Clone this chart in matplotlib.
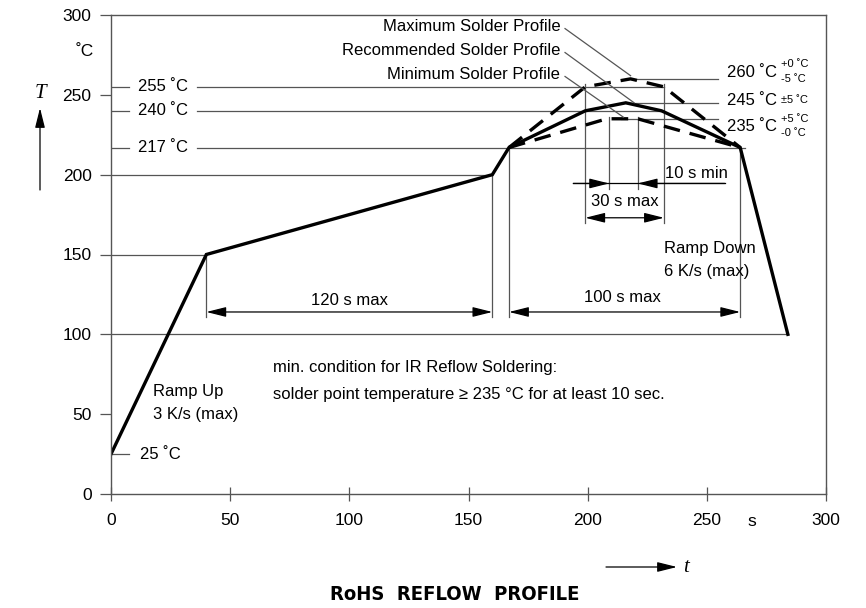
import matplotlib
matplotlib.use("Agg")
import matplotlib.pyplot as plt
from matplotlib import font_manager as fm

# ---------------- data ----------------
rec_time = [0, 40, 160, 167, 199, 216, 231, 264, 284]
rec_temp = [25, 150, 200, 217, 240, 245, 240, 217, 100]
max_time = [167, 199, 218, 232, 264]
max_temp = [217, 255, 260, 255, 217]
min_time = [167, 208, 221, 264]
min_temp = [217, 235, 235, 217]

x_ticks = [0, 50, 100, 150, 200, 250, 300]
y_ticks = [0, 50, 100, 150, 200, 250, 300]
left_refs = [255, 240, 217]
right_refs = [260, 245, 235]
right_tol = [("+0 ˚C", "-5 ˚C"), ("±5 ˚C", None), ("+5 ˚C", "-0 ˚C")]

# ---------------- fonts ----------------
ttf = fm.fontManager.ttflist
names = {f.name for f in ttf}
NARROW = 'Liberation Sans Narrow' in names
SANS = ['Liberation Sans Narrow', 'DejaVu Sans'] if NARROW else ['Liberation Sans', 'DejaVu Sans']
plt.rcParams['font.family'] = SANS
FS = 13.5 if NARROW else 12
TFS = 14.5 if NARROW else 12.5
SUP = 9 if NARROW else 8

GRAY = '#555555'
fig = plt.figure(figsize=(8.66, 6.08), dpi=100)
ax = fig.add_axes([111/866, 1-494/608, 715/866, 479/608])
ax.set_xlim(0, 300)
ax.set_ylim(0, 300)
for s in ax.spines.values():
    s.set_color(GRAY)
    s.set_linewidth(1.0)
ax.set_xticks(x_ticks)
ax.set_yticks(y_ticks)
ax.tick_params(axis='x', direction='inout', length=10, width=0.9, color=GRAY,
               pad=9, labelsize=TFS)
ax.tick_params(axis='y', direction='out', length=8, width=0.9, color=GRAY,
               pad=6, labelsize=TFS)

thin = dict(color=GRAY, lw=0.9)
# reference lines
ax.plot([0, 284], [100, 100], **thin)
ax.plot([0, 40], [150, 150], **thin)
ax.plot([0, 160], [200, 200], **thin)
ends = {255: 232, 240: 231, 217: 266}
for t in left_refs:
    ax.plot([0, 7.5], [t, t], **thin)
    ax.plot([36, ends[t]], [t, t], **thin)
    ax.text(11.5, t, f"{t} ˚C", fontsize=FS, va='center', ha='left')
ax.plot([0, 7.5], [25, 25], **thin)
ax.text(12, 25, "25 ˚C", fontsize=FS, va='center', ha='left')

# right reference lines from peaks
ax.plot([218, 254.5], [260, 260], **thin)
ax.plot([216, 254.5], [245, 245], **thin)
ax.plot([214, 254.5], [235, 235], **thin)
for t, yl, (up, lo) in zip(right_refs, [264, 246.7, 230], right_tol):
    ax.text(258.5, yl, f"{t} ˚C", fontsize=FS, va='center', ha='left')
    if lo is None:
        ax.text(281.2, yl, up, fontsize=SUP, va='center', ha='left')
    else:
        ax.text(281.2, yl + 5, up, fontsize=SUP, va='center', ha='left')
        ax.text(281.2, yl - 4, lo, fontsize=SUP, va='center', ha='left')

# vertical dimension lines
ax.plot([40, 40], [150, 111], **thin)
ax.plot([160, 160], [200, 111], **thin)
ax.plot([167, 167], [217, 111], **thin)
ax.plot([264, 264], [217, 111], **thin)
ax.plot([199, 199], [257, 170], **thin)
ax.plot([232, 232], [257, 170], **thin)
ax.plot([209, 209], [236, 191], **thin)
ax.plot([221, 221], [236, 191], **thin)

# profiles
ax.plot(rec_time, rec_temp, color='black', lw=2.4, solid_joinstyle='miter')
ax.plot(max_time, max_temp, color='black', lw=2.4, ls=(0, (5, 3)))
ax.plot(min_time, min_temp, color='black', lw=2.4, ls=(0, (5, 3)))

# arrows
AST = '<|-|>,head_length=0.6,head_width=0.15'
OST = '-|>,head_length=0.6,head_width=0.15'
def dim(x1, x2, y, style=AST):
    ax.annotate('', xy=(x2, y), xytext=(x1, y),
                arrowprops=dict(arrowstyle=style, color='black', lw=0.9,
                                mutation_scale=20, shrinkA=0, shrinkB=0))
dim(40, 160, 114)
dim(167, 264, 114)
dim(199, 232, 173)
ax.plot([194, 257.5], [194.5, 194.5], color='black', lw=0.9)
dim(194, 209, 194.5, OST)
dim(257.5, 221, 194.5, OST)

ax.text(100, 121.5, "120 s max", fontsize=FS, ha='center', va='center')
ax.text(214.5, 123, "100 s max", fontsize=FS, ha='center', va='center')
ax.text(215.5, 183, "30 s max", fontsize=FS, ha='center', va='center')
ax.text(232.5, 201, "10 s min", fontsize=FS, ha='left', va='center')
ax.text(232, 154, "Ramp Down", fontsize=FS, ha='left', va='center')
ax.text(232, 139.5, "6 K/s (max)", fontsize=FS, ha='left', va='center')
ax.text(17.8, 64, "Ramp Up", fontsize=FS, ha='left', va='center')
ax.text(17.8, 50, "3 K/s (max)", fontsize=FS, ha='left', va='center')
ax.text(68, 79.5, "min. condition for IR Reflow Soldering:", fontsize=FS, ha='left', va='center')
ax.text(68, 62.5, "solder point temperature ≥ 235 °C for at least 10 sec.", fontsize=FS,
        ha='left', va='center')

# profile name labels with leader lines
prof_names = ["Maximum Solder Profile", "Recommended Solder Profile", "Minimum Solder Profile"]
label_y = [292.5, 277.5, 262.5]
leader_end = [(218, 262), (219.5, 245), (215, 236)]
for nm, yl, (xe, ye) in zip(prof_names, label_y, leader_end):
    ax.text(188.5, yl, nm, fontsize=FS, ha='right', va='center')
    ax.plot([190.5, xe], [yl - 1, ye], **thin)

# outside annotations
fig.text(85/866, 1-52/608, "˚C", fontsize=TFS, ha='center', va='center')
fig.text(40/866, 1-93/608, "T", fontsize=15, ha='center', va='center',
         family=['Liberation Serif', 'DejaVu Serif'], style='italic')
fig.add_artist(matplotlib.patches.FancyArrowPatch(
    (40/866, 1-190/608), (40/866, 1-108/608), transform=fig.transFigure,
    arrowstyle='-|>,head_length=0.6,head_width=0.15', mutation_scale=20,
    color='black', lw=0.9, shrinkA=0, shrinkB=0))
fig.text(752/866, 1-522/608, "s", fontsize=TFS, ha='center', va='center')
fig.add_artist(matplotlib.patches.FancyArrowPatch(
    (606/866, 1-567/608), (677/866, 1-567/608), transform=fig.transFigure,
    arrowstyle='-|>,head_length=0.6,head_width=0.15', mutation_scale=20,
    color='black', lw=0.9, shrinkA=0, shrinkB=0))
fig.text(686/866, 1-567/608, "t", fontsize=15, ha='center', va='center',
         family=['Liberation Serif', 'DejaVu Serif'], style='italic')

cond = any(f.name == 'DejaVu Sans' and f.stretch in ('condensed', 'semi-condensed')
           and f.weight in ('bold', 700) for f in ttf)
if NARROW:
    fig.text(455/866, 1-595/608, "RoHS  REFLOW  PROFILE", fontsize=15, ha='center',
             va='center', weight='bold', family=['Liberation Sans Narrow'])
elif cond:
    fig.text(455/866, 1-595/608, "RoHS  REFLOW  PROFILE", fontsize=14.5, ha='center',
             va='center', weight='bold', family=['DejaVu Sans'], stretch='condensed')
else:
    fig.text(455/866, 1-595/608, "RoHS  REFLOW  PROFILE", fontsize=13, ha='center',
             va='center', weight='bold', family=['Liberation Sans'])

fig.savefig("out.png", dpi=100)
